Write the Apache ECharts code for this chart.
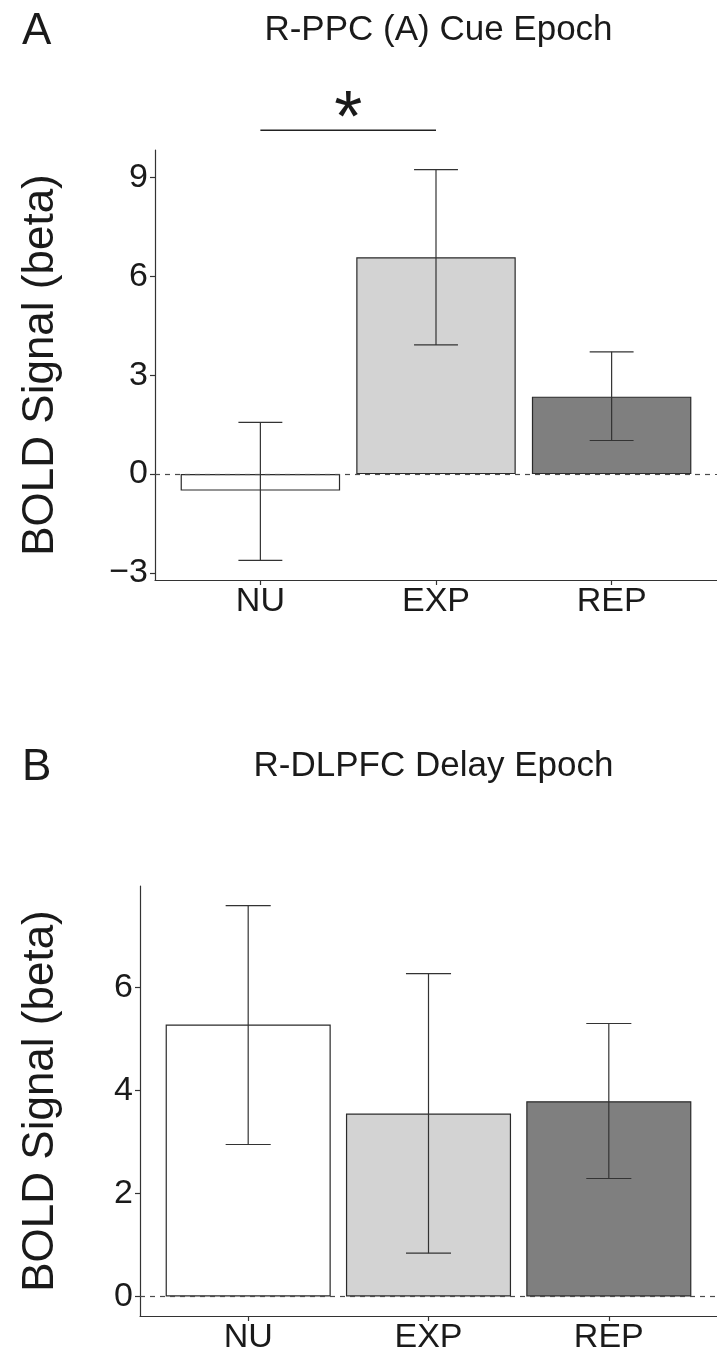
<!DOCTYPE html>
<html lang="en">
<head>
  <meta charset="utf-8" />
</head>
<body style="margin: 0; background: #ffffff">
  <div id="container" style="width: 717px; height: 1355px"></div>

  <script src="https://cdn.jsdelivr.net/npm/echarts@6.0.0/dist/echarts.min.js"></script>
  <script type="text/javascript">
    // ---- data ----
    var categories = ["NU", "EXP", "REP"];
    var fills = ["#ffffff", "#d3d3d3", "#7f7f7f"];

    // A: R-PPC (A) Cue Epoch
    var cueMean = [-0.5, 6.58, 2.35];
    var cueLow = [-2.62, 3.92, 1.02];
    var cueHigh = [1.57, 9.24, 3.71];
    var cueTicks = [-3, 0, 3, 6, 9];

    // B: R-DLPFC Delay Epoch
    var delayMean = [5.28, 3.55, 3.79];
    var delayLow = [2.95, 0.84, 2.29];
    var delayHigh = [7.59, 6.27, 5.3];
    var delayTicks = [0, 2, 4, 6];

    // significance bracket in panel A (category from, to, label)
    var sigPairs = [[1, 2, "*"]];

    var font = "Liberation Sans";
    var ink = "#1a1a1a";

    // panel boxes, x runs 0.4 .. 3.6 like ggplot's discrete expansion
    var panels = [
      { left: 155, top: 150, width: 567, height: 430, letter: "A", title: "R-PPC (A) Cue Epoch",
        mean: cueMean, low: cueLow, high: cueHigh, ticks: cueTicks },
      { left: 140, top: 886, width: 587, height: 430, letter: "B", title: "R-DLPFC Delay Epoch",
        mean: delayMean, low: delayLow, high: delayHigh, ticks: delayTicks }
    ];

    // y range with 5% expansion
    panels.forEach(function (p) {
      var lo = Math.min(0, Math.min.apply(null, p.low));
      var hi = Math.max(0, Math.max.apply(null, p.high));
      var pad = (hi - lo) * 0.05;
      p.yMin = lo - pad;
      p.yMax = hi + pad;
    });

    var dom = document.getElementById("container");
    var myChart = echarts.init(dom, null, { renderer: "canvas" });

    var axisLineStyle = { color: "#333333", width: 1.2 };

    function errorSeries(idx, low, high) {
      return {
        type: "custom",
        xAxisIndex: idx,
        yAxisIndex: idx,
        z: 5,
        data: low.map(function (v, i) { return [i + 1, v, high[i]]; }),
        renderItem: function (params, api) {
          var x = api.value(0);
          var lo = api.coord([x, api.value(1)]);
          var hi = api.coord([x, api.value(2)]);
          var half = api.size([0.125, 0])[0];
          var st = { stroke: "#333333", lineWidth: 1.2 };
          return {
            type: "group",
            children: [
              { type: "line", shape: { x1: lo[0], y1: lo[1], x2: hi[0], y2: hi[1] }, style: st },
              { type: "line", shape: { x1: lo[0] - half, y1: lo[1], x2: lo[0] + half, y2: lo[1] }, style: st },
              { type: "line", shape: { x1: hi[0] - half, y1: hi[1], x2: hi[0] + half, y2: hi[1] }, style: st }
            ]
          };
        }
      };
    }

    var grids = [], xAxes = [], yAxes = [], series = [], graphics = [];

    panels.forEach(function (p, idx) {
      grids.push({ left: p.left, top: p.top, width: p.width, height: p.height, containLabel: false });

      xAxes.push({
        gridIndex: idx,
        type: "value",
        min: 0.4,
        max: 3.6,
        axisLine: { show: true, onZero: false, lineStyle: axisLineStyle },
        axisTick: { show: true, customValues: [1, 2, 3], length: 5, lineStyle: axisLineStyle },
        axisLabel: {
          customValues: [1, 2, 3],
          formatter: function (v) { return categories[Math.round(v) - 1]; },
          fontSize: 34,
          fontFamily: font,
          color: ink,
          margin: 5
        },
        splitLine: { show: false }
      });

      yAxes.push({
        gridIndex: idx,
        type: "value",
        min: p.yMin,
        max: p.yMax,
        axisLine: { show: true, onZero: false, lineStyle: axisLineStyle },
        axisTick: { show: true, customValues: p.ticks, length: 5, lineStyle: axisLineStyle },
        axisLabel: {
          customValues: p.ticks,
          formatter: function (v) { return v < 0 ? "\u2212" + Math.abs(v) : String(v); },
          fontSize: 34,
          fontFamily: font,
          color: ink,
          margin: 7
        },
        splitLine: { show: false },
        name: "BOLD Signal (beta)",
        nameLocation: "middle",
        nameGap: p.left - 63,
        nameTextStyle: { fontSize: 44, fontFamily: font, color: ink }
      });

      series.push({
        type: "bar",
        xAxisIndex: idx,
        yAxisIndex: idx,
        barWidth: 0.9 * p.width / 3.2,
        data: p.mean.map(function (v, i) {
          return { value: [i + 1, v], itemStyle: { color: fills[i] } };
        }),
        itemStyle: { borderColor: "#2a2a2a", borderWidth: 1.2 },
        markLine: {
          silent: true,
          symbol: "none",
          z: 6,
          label: { show: false },
          lineStyle: { type: [5, 5], color: "#4a4a4a", width: 1.2 },
          data: [{ yAxis: 0 }]
        }
      });
      series.push(errorSeries(idx, p.low, p.high));

      // panel tag and title, title centred over the panel
      graphics.push({
        type: "text",
        x: 22,
        y: p.top - 118,
        style: { text: p.letter, fontSize: 44, fontFamily: font, fill: ink, verticalAlign: "middle" }
      });
      graphics.push({
        type: "text",
        x: p.left + p.width / 2,
        y: p.top - 120,
        style: { text: p.title, fontSize: 35, fontFamily: font, fill: ink, align: "center", verticalAlign: "middle" }
      });
    });

    // significance bracket + asterisk above panel A
    series.push({
      type: "custom",
      xAxisIndex: 0,
      yAxisIndex: 0,
      clip: false,
      z: 7,
      data: sigPairs,
      renderItem: function (params, api) {
        var level = panels[0].yMax + 0.6;
        var a = api.coord([api.value(0), level]);
        var b = api.coord([api.value(1), level]);
        return {
          type: "group",
          children: [
            { type: "line", shape: { x1: a[0], y1: a[1], x2: b[0], y2: b[1] }, style: { stroke: "#222222", lineWidth: 1.5 } },
            {
              type: "text",
              x: (a[0] + b[0]) / 2,
              y: a[1] + 27,
              style: { text: sigPairs[params.dataIndex][2], fontSize: 72, fontFamily: font, fill: ink, align: "center", verticalAlign: "bottom" }
            }
          ]
        };
      }
    });

    var option = {
      backgroundColor: "#ffffff",
      animation: false,
      grid: grids,
      xAxis: xAxes,
      yAxis: yAxes,
      series: series,
      graphic: graphics
    };

    myChart.setOption(option);
  </script>
</body>
</html>
